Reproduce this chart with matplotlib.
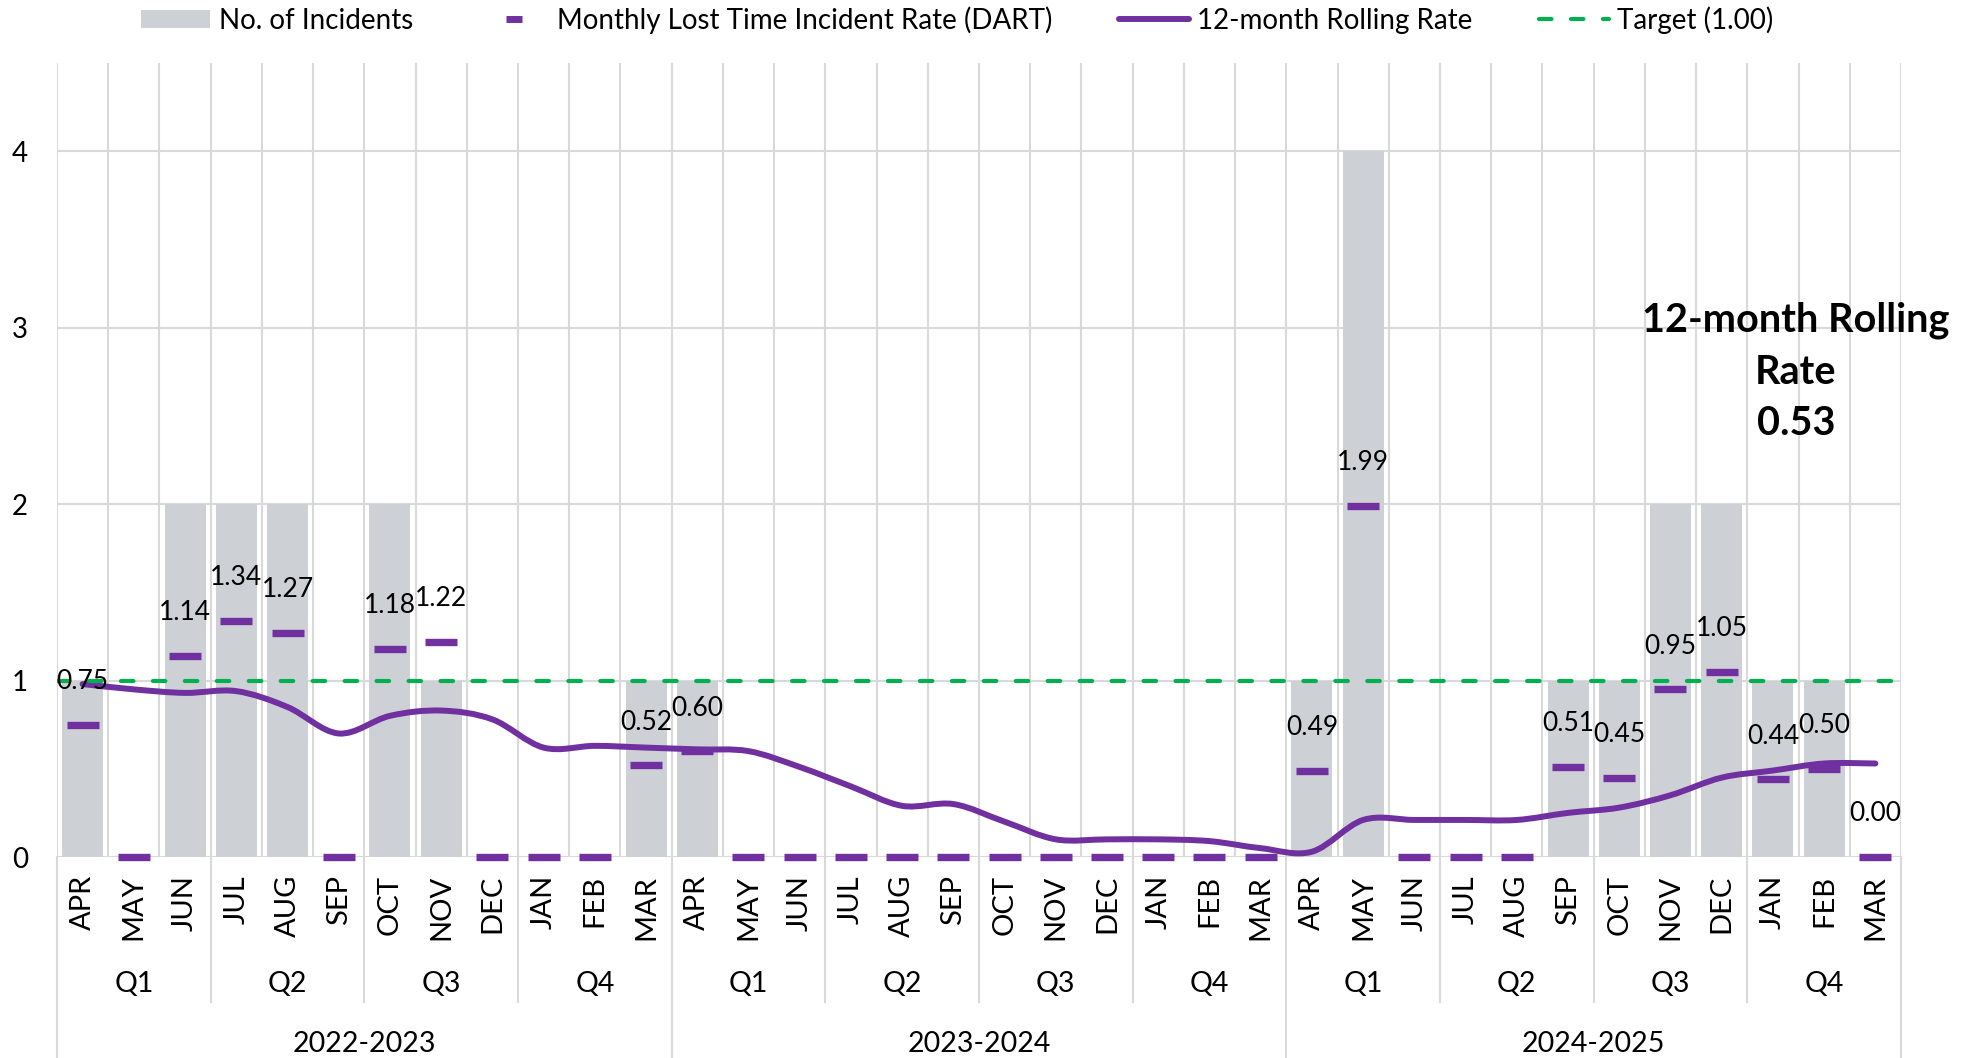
import numpy as np
import matplotlib
matplotlib.use('Agg')
import matplotlib.pyplot as plt
import matplotlib.transforms as mtransforms
from matplotlib.path import Path
from matplotlib.patches import PathPatch, Patch
from matplotlib.lines import Line2D

# ---- data ----
months = ['APR', 'MAY', 'JUN', 'JUL', 'AUG', 'SEP',
          'OCT', 'NOV', 'DEC', 'JAN', 'FEB', 'MAR'] * 3
quarters = ['Q1', 'Q2', 'Q3', 'Q4']
years = ['2022-2023', '2023-2024', '2024-2025']

incidents = [1, 0, 2, 2, 2, 0, 2, 1, 0, 0, 0, 1,
             1, 0, 0, 0, 0, 0, 0, 0, 0, 0, 0, 0,
             1, 4, 0, 0, 0, 1, 1, 2, 2, 1, 1, 0]

monthly_rate = [0.75, 0.00, 1.14, 1.34, 1.27, 0.00, 1.18, 1.22, 0.00, 0.00, 0.00, 0.52,
                0.60, 0.00, 0.00, 0.00, 0.00, 0.00, 0.00, 0.00, 0.00, 0.00, 0.00, 0.00,
                0.49, 1.99, 0.00, 0.00, 0.00, 0.51, 0.45, 0.95, 1.05, 0.44, 0.50, 0.00]

rolling_rate = [0.98, 0.95, 0.93, 0.94, 0.85, 0.70, 0.80, 0.83, 0.78, 0.62, 0.63, 0.62,
                0.61, 0.60, 0.51, 0.40, 0.29, 0.30, 0.20, 0.10, 0.10, 0.10, 0.09, 0.05,
                0.03, 0.21, 0.21, 0.21, 0.21, 0.25, 0.28, 0.35, 0.45, 0.49, 0.53, 0.53]

target = 1.00

# ---- style ----
PURPLE = '#7030A0'
GREEN = '#00B050'
BAR = '#CDD1D6'
GRID = '#D9D9D9'
plt.rcParams['font.family'] = ['Lato', 'DejaVu Sans']

fig = plt.figure(figsize=(19.71, 10.58), dpi=100)
ax = fig.add_axes([57 / 1971, 1 - 857 / 1058, 1844 / 1971, 794 / 1058])

x = np.arange(len(months))
n = len(x)

# grid
for k in range(5):
    ax.axhline(k, color=GRID, lw=1.5, zorder=0)
for b in np.arange(-0.5, n, 1.0):
    ax.axvline(b, color=GRID, lw=1.5, zorder=0)

# bars
ax.bar(x, incidents, width=0.8, color=BAR, zorder=1)

# smoothed rolling rate (bezier through the data points, like Excel's smooth line)
pts = np.column_stack([x, rolling_rate]).astype(float)
verts = [pts[0]]
codes = [Path.MOVETO]
for i in range(n - 1):
    p0 = pts[max(i - 1, 0)]
    p1 = pts[i]
    p2 = pts[i + 1]
    p3 = pts[min(i + 2, n - 1)]
    verts += [p1 + (p2 - p0) / 6, p2 - (p3 - p1) / 6, p2]
    codes += [Path.CURVE4] * 3
ax.add_patch(PathPatch(Path(verts, codes), fill=False, edgecolor=PURPLE,
                       lw=4.3, capstyle='round', zorder=3))

# target line
tgt_style = (0, (3, 4.67))
ax.axhline(target, color=GREEN, lw=3, linestyle=tgt_style,
           dash_capstyle='round', zorder=3)

# monthly rate markers
ax.plot(x, monthly_rate, linestyle='none', marker='_', markersize=22.5,
        markeredgewidth=5.3, color=PURPLE, zorder=4, clip_on=False)

# data labels
for i, v in enumerate(monthly_rate):
    if v > 0 or i == n - 1:
        ax.annotate(f'{v:.2f}', (i, v), xytext=(0, 31), textcoords='offset points',
                    ha='center', va='center', fontsize=19, zorder=5)

# rolling rate callout
ax.text(33.45, 2.75, f'12-month Rolling\nRate\n{rolling_rate[-1]:.2f}',
        ha='center', va='center', fontsize=28.5, fontweight='bold',
        linespacing=1.48, clip_on=False, zorder=6)

ax.set_xlim(-0.5, n - 0.5)
ax.set_ylim(0, 4.5)
ax.set_yticks(range(5))
ax.set_xticks([])
ax.tick_params(axis='y', length=0, pad=21, labelsize=20)
for s in ax.spines.values():
    s.set_visible(False)

# multi-level category axis
trans = mtransforms.blended_transform_factory(ax.transData, ax.transAxes)
for i, m in enumerate(months):
    ax.text(i, -18 / 794, m, rotation=90, ha='center', va='top', fontsize=21,
            transform=trans)
for q in range(12):
    ax.text(q * 3 + 1, -127 / 794, quarters[q % 4], ha='center', va='center',
            fontsize=20.5, transform=trans)
    b = q * 3 - 0.5
    if q % 4 != 0:
        ax.plot([b, b], [0, -145 / 794], color=GRID, lw=1.5, transform=trans,
                clip_on=False)
for y_i, yr in enumerate(years):
    ax.text(y_i * 12 + 5.5, -187 / 794, yr, ha='center', va='center',
            fontsize=20.5, transform=trans)
for b in [-0.5, 11.5, 23.5, 35.5]:
    ax.plot([b, b], [0, -0.3], color=GRID, lw=1.5, transform=trans, clip_on=False)

# legend
handles = [
    Patch(facecolor=BAR),
    Line2D([], [], color=PURPLE, marker='_', linestyle='none',
           markersize=12, markeredgewidth=5),
    Line2D([], [], color=PURPLE, lw=4.3, solid_capstyle='round'),
    Line2D([], [], color=GREEN, lw=3, linestyle=tgt_style, dash_capstyle='round'),
]
labels = ['No. of Incidents', 'Monthly Lost Time Incident Rate (DART)',
          '12-month Rolling Rate', f'Target ({target:.2f})']
fig.legend(handles, labels, loc='center', bbox_to_anchor=(0.4856, 1 - 20 / 1058),
           ncol=4, frameon=False, fontsize=20, handlelength=2.5,
           handletextpad=0.3, columnspacing=2.4, handleheight=0.6)

fig.savefig('out.png', dpi=100)
